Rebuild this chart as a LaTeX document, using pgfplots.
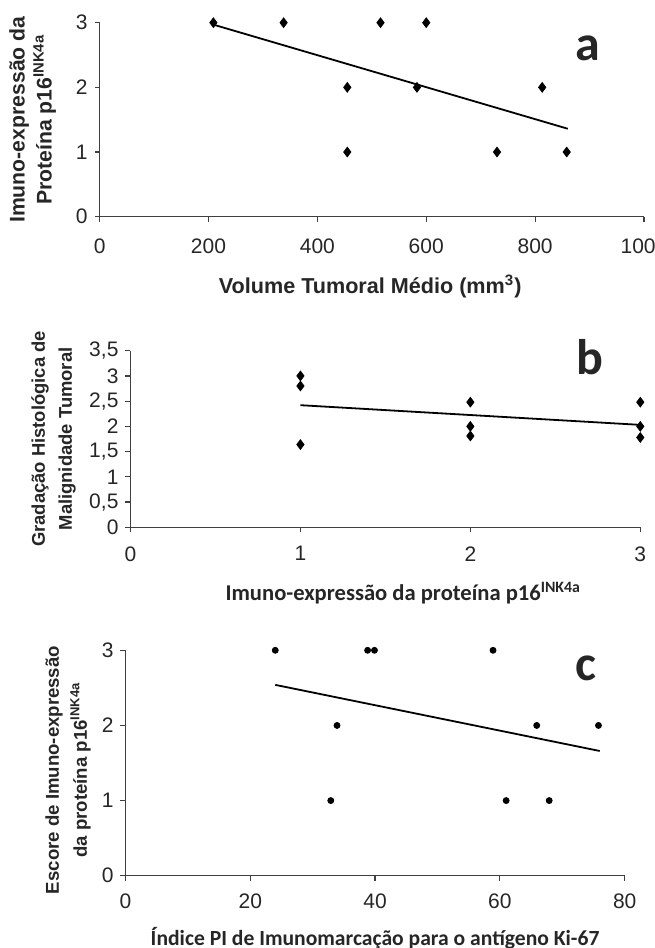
\documentclass[border=0pt]{standalone}
\usepackage{fontspec}
\setmainfont{Liberation Sans}
\newfontfamily\calibri{Carlito}
\usepackage{pgfplots}
\pgfplotsset{compat=1.18}

\pgfplotsset{
  painel/.style={
    scale only axis,
    axis lines=left,
    axis line style={black!75, line width=0.6pt, -},
    tick align=outside,
    major tick length=2.5pt,
    tick style={black!75, line width=0.6pt},
    ymin=0,
    tick label style={font=\fontsize{10.5}{12}\selectfont, text=black!85},
    /pgf/number format/assume math mode=true,
    /pgf/number format/use comma,
    /pgf/number format/1000 sep={},
    clip=false,
  },
  pontos/.style={only marks, mark=diamond*, mark size=2.4pt, black},
  tendencia/.style={no marks, black, line width=0.9pt},
}
\tikzset{letra/.style={font=\fontsize{25}{25}\selectfont\calibri\bfseries, text=black!85}}

\begin{document}
\begin{tikzpicture}
\path[use as bounding box] (0,0) rectangle (327pt,474pt);

% a
\begin{axis}[painel,
  at={(49.8pt,365.65pt)}, anchor=south west,
  width=272.2pt, height=97pt,
  xmin=0, xmax=1000, ymax=3,
  xtick={0,200,...,1000}, ytick={0,1,2,3},
  xticklabel style={yshift=-5pt},
  ylabel={Imuno-expressão da\\Proteína p16\textsuperscript{INK4a}},
  ylabel style={at={(axis description cs:-0.123,0.5)}, anchor=center, rotate=0,
    align=center, font=\fontsize{10.6}{13.5}\selectfont\bfseries, text=black!85},
  xlabel={Volume Tumoral Médio (mm\textsuperscript{3})},
  xlabel style={at={(axis description cs:0.497,-0.362)}, anchor=center,
    font=\fontsize{10.8}{13}\selectfont\bfseries, text=black!85},
]
\addplot[pontos] coordinates {
  (209,3) (338,3) (516,3) (600,3)
  (455,2) (583,2) (813,2)
  (455,1) (730,1) (858,1)
};
\addplot[tendencia] coordinates {(209,2.97) (860,1.36)};
\node[letra] at (axis description cs:0.897,0.87) {a};
\end{axis}

% b
\begin{axis}[painel,
  at={(65.25pt,210.35pt)}, anchor=south west,
  width=254.9pt, height=88.3pt,
  xmin=0, xmax=3, ymax=3.5,
  xtick={0,1,2,3}, ytick={0,0.5,...,3.5},
  xticklabel style={yshift=-3.5pt},
  ylabel={Gradação Histológica de\\Malignidade Tumoral},
  ylabel style={at={(axis description cs:-0.151,0.5)}, anchor=center, rotate=0,
    align=center, font=\fontsize{9.2}{13.5}\selectfont\bfseries, text=black!85},
  xlabel={Imuno-expressão da proteína p16\textsuperscript{INK4a}},
  xlabel style={at={(axis description cs:0.535,-0.372)}, anchor=center,
    font=\fontsize{11.3}{13}\selectfont\calibri\bfseries, text=black!85},
]
\addplot[pontos] coordinates {
  (1,3.0) (1,2.8) (1,1.64)
  (2,2.48) (2,2.0) (2,1.81)
  (3,2.48) (3,2.0) (3,1.78)
};
\addplot[tendencia] coordinates {(1,2.42) (3,2.03)};
\node[letra] at (axis description cs:0.9015,0.966) {b};
\end{axis}

% c
\begin{axis}[painel,
  at={(62.75pt,36.15pt)}, anchor=south west,
  width=249.6pt, height=112.7pt,
  xmin=0, xmax=80, ymax=3,
  xtick={0,20,...,80}, ytick={0,1,2,3},
  xticklabel style={yshift=-3pt},
  ylabel={Escore de Imuno-expressão\\da proteína p16\textsuperscript{INK4a}},
  ylabel style={at={(axis description cs:-0.115,0.469)}, anchor=center, rotate=0,
    align=center, font=\fontsize{9.3}{14}\selectfont\bfseries, text=black!85},
  xlabel={Índice PI de Imunomarcação para o antígeno Ki-67},
  xlabel style={at={(axis description cs:0.5,-0.276)}, anchor=center,
    font=\fontsize{10.8}{13}\selectfont\calibri\bfseries, text=black!85},
]
\addplot[only marks, mark=*, mark size=1.5pt, black] coordinates {
  (24.0,3) (38.8,3) (39.9,3) (58.9,3)
  (33.9,2) (65.9,2) (75.8,2)
  (32.9,1) (61.0,1) (67.9,1)
};
\addplot[tendencia] coordinates {(24,2.54) (76,1.66)};
\node[letra] at (axis description cs:0.922,0.921) {c};
\end{axis}
\end{tikzpicture}
\end{document}
